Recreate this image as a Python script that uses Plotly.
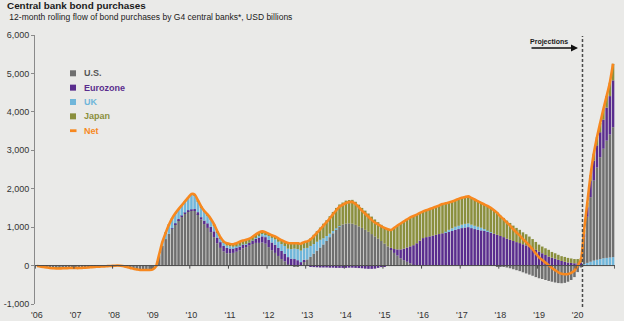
import plotly.graph_objects as go

# Monthly 12-month rolling flows, USD billions, Jan 2006 - Dec 2020
months = [f"{y}-{m:02d}" for y in range(2006, 2021) for m in range(1, 13)]
year_ticks = [f"{y}-01" for y in range(2006, 2021)]
year_labels = ["'06", "'07", "'08", "'09", "'10", "'11", "'12", "'13",
               "'14", "'15", "'16", "'17", "'18", "'19", "'20"]

us = [
    -10, -20, -30, -40, -50, -55, -60, -60, -60, -60, -55, -55,          # 2006
    -55, -55, -50, -50, -45, -40, -35, -30, -25, -20, -15, -10,          # 2007
    -5, 0, 0, -10, -30, -50, -70, -85, -95, -95, -95, -95,               # 2008
    -80, -10, 260, 520, 690, 830, 960, 1080, 1180, 1270, 1350, 1410,     # 2009
    1430, 1430, 1340, 1200, 1080, 980, 870, 740, 580, 460, 370, 320,     # 2010
    320, 330, 360, 400, 450, 480, 520, 560, 590, 590, 600, 570,          # 2011
    480, 400, 330, 250, 170, 110, 30, -10, -30, -30, 0, 110,             # 2012
    160, 230, 310, 390, 470, 550, 640, 740, 840, 940, 1020, 1070,        # 2013
    1090, 1100, 1090, 1060, 1020, 980, 930, 880, 820, 760, 700, 640,     # 2014
    570, 500, 420, 330, 260, 190, 140, 100, 60, 20, 0, 0,                # 2015
    0, 0, 0, 0, 0, 0, 0, 0, 0, 0, 0, 0,                                  # 2016
    0, 0, 0, 0, 0, 0, 0, 0, 0, -5, -10, -20,                             # 2017
    -20, -35, -50, -70, -95, -120, -145, -175, -205, -235, -265, -300,   # 2018
    -330, -350, -375, -400, -420, -440, -455, -460, -450, -420, -375, -300,  # 2019
    -170, -50, 700, 1200, 1680, 2080, 2400, 2650, 2850, 3050, 3200, 3380,   # 2020
]

eurozone = [
    0, 0, 0, 0, 0, 0, 0, 0, 0, 0, 0, 0,
    0, 0, 0, 0, 0, 0, 0, 0, 0, 0, 0, 0,
    0, 0, 0, 0, 0, 0, 0, 0, 0, 0, 0, 0,
    0, 0, 0, 0, 0, 0, 10, 20, 30, 30, 30, 30,
    30, 40, 50, 60, 90, 120, 140, 150, 150, 150, 140, 140,
    130, 120, 110, 100, 90, 80, 70, 80, 110, 140, 160, 170,
    190, 200, 210, 210, 210, 200, 190, 180, 170, 140, 90, 40,
    -10, -30, -40, -45, -50, -50, -50, -55, -55, -60, -60, -60,
    -60, -55, -55, -60, -65, -70, -80, -85, -85, -80, -60, -40,
    -20, 0, 40, 100, 160, 230, 300, 370, 440, 510, 580, 650,
    715, 740, 760, 780, 800, 820, 840, 860, 880, 900, 930, 950,
    975, 990, 1000, 975, 950, 930, 915, 900, 880, 860, 830, 800,
    770, 740, 700, 670, 640, 610, 585, 555, 525, 495, 455, 410,
    365, 320, 275, 235, 205, 180, 150, 120, 100, 80, 70, 60,
    60, 80, 80, 250, 420, 520, 580, 650, 760, 860, 1000, 1220,
]

uk = [
    0, 0, 0, 0, 0, 0, 0, 0, 0, 0, 0, 0,
    0, 0, 0, 0, 0, 0, 0, 0, 0, 0, 0, 0,
    0, 0, 0, 0, 0, 0, 0, 0, 0, 0, 0, 0,
    0, 0, 40, 100, 150, 220, 250, 250, 250, 260, 280, 320,
    380, 360, 290, 260, 230, 200, 180, 160, 140, 100, 80, 60,
    50, 40, 30, 20, 10, 5, 5, 10, 20, 40, 60, 80,
    100, 120, 140, 160, 180, 200, 220, 250, 270, 290, 300, 300,
    300, 280, 250, 230, 200, 160, 130, 90, 60, 30, 10, 0,
    0, 0, 0, 0, 0, 0, 0, 0, 0, 0, 0, 0,
    0, 0, 0, 0, 0, 0, 0, 0, 0, 0, 0, 0,
    0, 0, 0, 0, 0, 0, 0, 20, 50, 70, 80, 85,
    90, 95, 95, 90, 85, 80, 70, 50, 30, 10, 0, 0,
    0, 0, 0, 0, 0, 0, 0, 0, 0, 0, 0, 0,
    0, 0, 0, 0, 0, 0, 0, 0, 0, 0, 0, 0,
    0, 0, 40, 70, 100, 130, 150, 170, 190, 200, 210, 220,
]

japan = [
    0, 0, -5, -10, -15, -15, -15, -15, -10, -10, -10, -10,
    -10, -10, -10, -5, -5, 0, 0, 0, 0, 0, 0, 0,
    0, 0, -5, -5, -10, -10, -15, -15, -20, -20, -20, -20,
    -20, -10, 0, 0, 10, 10, 10, 10, 10, 10, 10, 10,
    20, 20, 20, 20, 20, 30, 30, 30, 30, 30, 40, 60,
    60, 65, 80, 100, 100, 105, 105, 100, 90, 90, 70, 50,
    60, 70, 80, 90, 100, 110, 150, 160, 170, 180, 180, 160,
    180, 200, 240, 275, 320, 380, 410, 455, 495, 530, 560, 570,
    600, 605, 620, 600, 565, 520, 500, 475, 455, 440, 430, 420,
    430, 445, 465, 550, 620, 675, 710, 730, 755, 760, 745, 720,
    695, 700, 710, 720, 730, 745, 760, 740, 710, 700, 690, 700,
    700, 700, 705, 695, 685, 665, 645, 640, 640, 635, 620, 590,
    530, 500, 470, 440, 400, 370, 345, 310, 290, 260, 235, 205,
    180, 175, 175, 175, 150, 140, 130, 125, 125, 120, 115, 110,
    110, 110, 100, 120, 150, 180, 210, 240, 270, 300, 350, 430,
]

net = [a + b + c + d for a, b, c, d in zip(us, eurozone, uk, japan)]

projection_start = "2020-03"

y_ticks = [-1000, 0, 1000, 2000, 3000, 4000, 5000, 6000]
y_labels = ["-1,000", "0", "1,000", "2,000", "3,000", "4,000", "5,000", "6,000"]

# Colours
C_US = "#6f6f6f"
C_EZ = "#5a2d8e"
C_UK = "#70b6da"
C_JP = "#8a8f3d"
C_NET = "#f7881f"
BG = "#eaeae8"
FONT = "Liberation Sans, Arial, sans-serif"

# Canvas geometry (pixels) and conversion to paper coordinates
W, H = 624, 321
ML, MR, MT, MB = 35, 9, 35, 17


def px(x):
    return (x - ML) / (W - ML - MR)


def py(y):
    return (H - MB - y) / (H - MT - MB)


p = months.index(projection_start)

fig = go.Figure()

# Projected UK purchases sit at the base of the projected bars
fig.add_trace(go.Bar(x=months[p:], y=uk[p:], marker_color=C_UK,
                     marker_line_width=0, name="UK", showlegend=False))
fig.add_trace(go.Bar(x=months, y=us, marker_color=C_US,
                     marker_line_width=0, name="U.S.", showlegend=False))
fig.add_trace(go.Bar(x=months, y=eurozone, marker_color=C_EZ,
                     marker_line_width=0, name="Eurozone", showlegend=False))
fig.add_trace(go.Bar(x=months[:p], y=uk[:p], marker_color=C_UK,
                     marker_line_width=0, name="UK", showlegend=False))
fig.add_trace(go.Bar(x=months, y=japan, marker_color=C_JP,
                     marker_line_width=0, name="Japan", showlegend=False))
fig.add_trace(go.Scatter(x=months, y=net, mode="lines",
                         line=dict(color=C_NET, width=2.6, shape="spline", smoothing=0.5),
                         name="Net", showlegend=False))

shapes = []
# Zero line with year-boundary tick marks
shapes.append(dict(type="line", xref="paper", yref="y", x0=0, x1=1, y0=0, y1=0,
                   line=dict(color="#4a4a4a", width=1), layer="above"))
for k in range(len(year_ticks) + 1):
    xb = 12 * k - 0.5
    shapes.append(dict(type="line", xref="x", yref="y", x0=xb, x1=xb, y0=0, y1=-80,
                       line=dict(color="#4a4a4a", width=1), layer="above"))
# Start of projections
shapes.append(dict(type="line", xref="x", yref="paper", x0=p - 0.5, x1=p - 0.5,
                   y0=py(307), y1=py(36),
                   line=dict(color="#4a4a4a", width=1.5, dash="3px,2px"), layer="above"))

# Legend
legend_items = [("U.S.", C_US, "#555555"), ("Eurozone", C_EZ, C_EZ), ("UK", C_UK, C_UK),
                ("Japan", C_JP, C_JP), ("Net", C_NET, C_NET)]
annotations = []
for i, (label, swatch, txt) in enumerate(legend_items):
    yc = 73.3 + i * 14.35
    if label == "Net":
        shapes.append(dict(type="rect", xref="paper", yref="paper",
                           x0=px(70), x1=px(76.5), y0=py(yc + 1.4), y1=py(yc - 1.4),
                           fillcolor=swatch, line_width=0))
    else:
        shapes.append(dict(type="rect", xref="paper", yref="paper",
                           x0=px(70), x1=px(76), y0=py(yc + 3), y1=py(yc - 3),
                           fillcolor=swatch, line_width=0))
    annotations.append(dict(xref="paper", yref="paper", x=px(81.5), y=py(yc),
                            xanchor="left", yanchor="middle", showarrow=False,
                            text=f"<b>{label}</b>",
                            font=dict(family=FONT, size=9, color=txt)))

# Titles
annotations.append(dict(xref="paper", yref="paper", x=px(5), y=py(5.8), xanchor="left",
                        yanchor="middle", showarrow=False,
                        text="<b>Central bank bond purchases</b>",
                        font=dict(family=FONT, size=9.9, color="#1a1a1a")))
annotations.append(dict(xref="paper", yref="paper", x=px(4.5), y=py(17.2), xanchor="left",
                        yanchor="middle", showarrow=False,
                        text=" 12-month rolling flow of bond purchases by G4 central banks*, USD billions",
                        font=dict(family=FONT, size=8.5, color="#1a1a1a")))

# Projections label and arrow
annotations.append(dict(xref="paper", yref="paper", x=px(549), y=py(41.5), xanchor="center",
                        yanchor="middle", showarrow=False, text="<b>Projections</b>",
                        font=dict(family=FONT, size=7, color="#1a1a1a")))
annotations.append(dict(xref="paper", yref="paper", x=px(578), y=py(48),
                        ax=-48, ay=0, text="", showarrow=True, arrowhead=2, arrowsize=1,
                        arrowwidth=1.4, arrowcolor="#111111"))

fig.update_layout(
    width=W, height=H,
    margin=dict(l=ML, r=MR, t=MT, b=MB, pad=0, autoexpand=False),
    paper_bgcolor=BG, plot_bgcolor=BG,
    barmode="relative", bargap=0.22,
    showlegend=False,
    font=dict(family=FONT, size=9, color="#333333"),
    shapes=shapes, annotations=annotations,
    xaxis=dict(type="category", categoryorder="array", categoryarray=months,
               range=[-0.6, len(months) - 0.4], automargin=False,
               tickmode="array", tickvals=year_ticks, ticktext=year_labels,
               ticks="outside", ticklen=2, tickcolor="rgba(0,0,0,0)",
               showgrid=False, zeroline=False, showline=False,
               tickfont=dict(family=FONT, size=9, color="#333333")),
    yaxis=dict(range=[-1000, 6000], tickmode="array", tickvals=y_ticks, ticktext=y_labels,
               automargin=False,
               showgrid=False, zeroline=False, showline=True, linecolor="#8a8a8a",
               linewidth=1, ticks="outside", ticklen=3, tickcolor="#8a8a8a",
               tickfont=dict(family=FONT, size=9, color="#333333")),
)

fig.write_html("out.html")
